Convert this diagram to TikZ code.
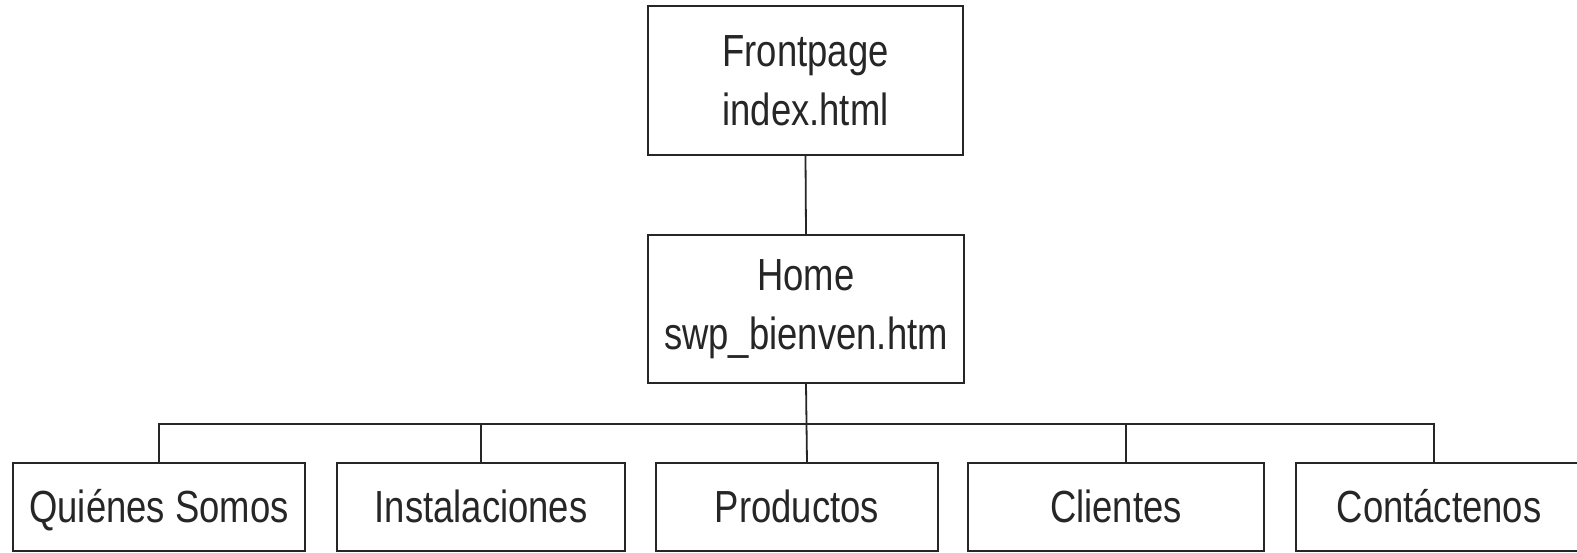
\documentclass[tikz,border=0pt]{standalone}
\usepackage{fontspec}
\setmainfont{Liberation Sans}[FakeStretch=0.81]
\begin{document}
\begin{tikzpicture}[x=1pt,y=-1pt,
  box/.style={draw=black!85,line width=1.8pt,rectangle,inner sep=0pt,align=center,
    font=\fontsize{45}{59}\selectfont,text=black!85},
  leaf/.style={box,minimum height=88pt,text height=36pt,text depth=6pt},
  link/.style={draw=black!85,line width=1.8pt}]
\useasboundingbox (0,0) rectangle (1577,552);
\node[box,minimum width=315pt,minimum height=149pt] (fp) at (805.5,80.5) {Frontpage\\index.html};
\node[box,minimum width=316pt,minimum height=148pt] (home) at (806,309) {Home\\swp\_bienven.htm};
\node[leaf,minimum width=292pt] (q) at (159,507) {Quiénes Somos};
\node[leaf,minimum width=288pt] (ins) at (481,507) {Instalaciones};
\node[leaf,minimum width=282pt] (prod) at (797,507) {Productos};
\node[leaf,minimum width=296pt] (cli) at (1116,507) {Clientes};
\node[leaf,minimum width=286pt] (con) at (1439,507) {Contáctenos};
\coordinate (bus) at (0,424);
\coordinate (dprod) at (807,463);
\coordinate (dcli) at (1126,463);
\coordinate (dcon) at (1434,463);
\draw[link] (fp.south) -- (home.north);
\draw[link] (home.south) -- (dprod);
\draw[link] (q.north) -- (q.north |- bus) -- (dcon |- bus) -- (dcon);
\draw[link] (ins.north) -- (ins.north |- bus);
\draw[link] (dcli) -- (dcli |- bus);
\end{tikzpicture}
\end{document}
